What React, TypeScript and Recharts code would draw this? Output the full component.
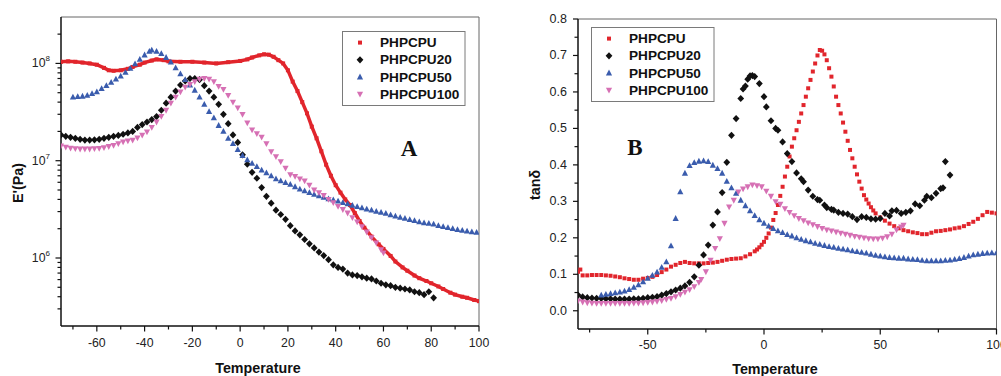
import { ScatterChart, Scatter, XAxis, YAxis, ReferenceLine, Legend } from 'recharts'

const RED = '#e1252c'
const BLACK = '#111111'
const BLUE = '#3a5cad'
const PINK = '#d670b4'
const FONT = '"Liberation Sans", Arial, Helvetica, sans-serif'

// Panel A: storage modulus E' (Pa) vs temperature
const A_PHPCPU: [number, number][] = [
  [-75, 1.04e8], [-72, 1.05e8], [-69, 1.04e8], [-66, 1.02e8], [-63, 1.0e8], [-60, 9.7e7], [-57, 9.0e7],
  [-55, 8.5e7], [-53, 8.4e7], [-50, 8.5e7], [-47, 8.8e7], [-45, 9.2e7], [-42, 9.7e7], [-40, 1.02e8],
  [-37, 1.07e8], [-35, 1.1e8], [-32, 1.08e8], [-30, 1.05e8], [-25, 1.04e8], [-20, 1.04e8], [-15, 1.02e8],
  [-10, 1.0e8], [-5, 1.03e8], [0, 1.06e8], [3, 1.1e8], [5, 1.15e8], [8, 1.21e8], [10, 1.24e8], [12, 1.23e8],
  [14, 1.17e8], [16, 1.08e8], [18, 1.0e8], [20, 8.5e7], [22, 6.5e7], [24, 5.2e7], [26, 4.0e7], [28, 3.07e7],
  [30, 2.24e7], [32, 1.7e7], [34, 1.25e7], [36, 9.1e6], [38, 7.0e6], [40, 5.6e6], [42, 4.7e6], [44, 4.0e6],
  [46, 3.5e6], [48, 2.9e6], [50, 2.4e6], [52, 2.05e6], [55, 1.66e6], [58, 1.38e6], [60, 1.24e6], [63, 1.05e6],
  [65, 9.2e5], [68, 8.0e5], [70, 7.4e5], [73, 6.6e5], [75, 6.2e5], [78, 5.8e5], [80, 5.5e5], [83, 5.1e5],
  [85, 4.8e5], [88, 4.4e5], [90, 4.2e5], [93, 4.0e5], [95, 3.9e5], [98, 3.7e5], [100, 3.6e5],
]
const A_PHPCPU20: [number, number][] = [
  [-75, 1.84e7], [-73, 1.78e7], [-71, 1.74e7], [-69, 1.7e7], [-67, 1.66e7], [-65, 1.63e7], [-63, 1.63e7],
  [-61, 1.64e7], [-59, 1.66e7], [-57, 1.7e7], [-55, 1.74e7], [-53, 1.78e7], [-51, 1.82e7], [-49, 1.87e7],
  [-47, 1.93e7], [-45, 2.0e7], [-43, 2.2e7], [-41, 2.35e7], [-39, 2.5e7], [-37, 2.65e7], [-35, 2.84e7],
  [-33, 3.3e7], [-31, 3.9e7], [-29, 4.5e7], [-27, 5.2e7], [-25, 6.0e7], [-23, 6.6e7], [-21, 7.0e7],
  [-19, 7.0e7], [-17, 6.8e7], [-15, 5.9e7], [-13, 5.2e7], [-11, 4.5e7], [-9, 3.8e7], [-7, 3.0e7],
  [-5, 2.4e7], [-3, 1.84e7], [-1, 1.54e7], [1, 1.15e7], [3, 9.2e6], [5, 7.6e6], [7, 6.6e6], [9, 5.3e6],
  [11, 4.3e6], [13, 3.66e6], [15, 3.1e6], [17, 2.8e6], [19, 2.5e6], [21, 2.15e6], [23, 1.9e6], [25, 1.73e6],
  [27, 1.55e6], [29, 1.4e6], [31, 1.27e6], [33, 1.15e6], [35, 1.06e6], [37, 9.6e5], [39, 8.5e5], [41, 8.0e5],
  [43, 7.7e5], [45, 7.0e5], [47, 6.7e5], [49, 6.6e5], [51, 6.4e5], [53, 6.2e5], [55, 6.1e5], [57, 5.8e5],
  [59, 5.5e5], [61, 5.3e5], [63, 5.2e5], [65, 5.0e5], [67, 4.9e5], [69, 4.8e5], [71, 4.7e5], [73, 4.5e5],
  [75, 4.4e5], [77, 4.2e5], [79, 4.5e5], [81, 3.9e5],
]
const A_PHPCPU50: [number, number][] = [
  [-70, 4.5e7], [-68, 4.55e7], [-66, 4.6e7], [-64, 4.7e7], [-62, 4.9e7], [-60, 5.1e7], [-58, 5.5e7],
  [-56, 5.9e7], [-54, 6.4e7], [-52, 6.9e7], [-50, 7.4e7], [-48, 8.1e7], [-46, 8.9e7], [-44, 9.9e7],
  [-42, 1.1e8], [-40, 1.22e8], [-38, 1.33e8], [-37, 1.37e8], [-35, 1.33e8], [-33, 1.26e8], [-31, 1.15e8],
  [-29, 1.03e8], [-27, 9.0e7], [-25, 7.8e7], [-23, 6.8e7], [-21, 6.0e7], [-19, 5.3e7], [-17, 4.5e7],
  [-15, 3.8e7], [-13, 3.2e7], [-11, 2.75e7], [-9, 2.3e7], [-7, 2.0e7], [-5, 1.7e7], [-3, 1.5e7], [-1, 1.3e7],
  [1, 1.13e7], [3, 1.02e7], [5, 9.4e6], [7, 8.7e6], [9, 8.0e6], [11, 7.5e6], [13, 7.0e6], [15, 6.5e6],
  [17, 6.2e6], [19, 5.95e6], [21, 5.7e6], [23, 5.4e6], [25, 5.1e6], [27, 4.9e6], [29, 4.7e6], [31, 4.5e6],
  [33, 4.35e6], [35, 4.2e6], [37, 4.05e6], [39, 3.95e6], [41, 3.85e6], [43, 3.7e6], [45, 3.6e6], [47, 3.48e6],
  [49, 3.38e6], [51, 3.28e6], [53, 3.18e6], [55, 3.1e6], [57, 3.02e6], [59, 2.95e6], [61, 2.87e6],
  [63, 2.78e6], [65, 2.7e6], [67, 2.62e6], [69, 2.55e6], [71, 2.48e6], [73, 2.42e6], [75, 2.35e6],
  [77, 2.3e6], [79, 2.27e6], [81, 2.23e6], [83, 2.15e6], [85, 2.1e6], [87, 2.05e6], [89, 2.0e6],
  [91, 1.96e6], [93, 1.92e6], [95, 1.89e6], [97, 1.86e6], [99, 1.83e6],
]
const A_PHPCPU100: [number, number][] = [
  [-75, 1.42e7], [-73, 1.38e7], [-71, 1.35e7], [-69, 1.33e7], [-67, 1.32e7], [-65, 1.32e7], [-63, 1.32e7],
  [-61, 1.33e7], [-59, 1.34e7], [-57, 1.36e7], [-55, 1.4e7], [-53, 1.44e7], [-51, 1.5e7], [-49, 1.56e7],
  [-47, 1.6e7], [-45, 1.63e7], [-43, 1.72e7], [-41, 1.83e7], [-39, 1.98e7], [-37, 2.2e7], [-35, 2.5e7],
  [-33, 2.85e7], [-31, 3.3e7], [-29, 3.9e7], [-27, 4.5e7], [-25, 5.1e7], [-23, 5.7e7], [-21, 6.1e7],
  [-19, 6.5e7], [-17, 6.9e7], [-15, 7.0e7], [-13, 6.9e7], [-11, 6.5e7], [-9, 5.8e7], [-7, 5.4e7],
  [-5, 4.7e7], [-3, 4.0e7], [-1, 3.5e7], [1, 3.0e7], [3, 2.45e7], [5, 2.07e7], [7, 1.9e7], [9, 1.75e7],
  [11, 1.5e7], [13, 1.24e7], [15, 1.1e7], [17, 9.8e6], [19, 8.4e6], [21, 7.2e6], [23, 6.9e6], [25, 6.5e6],
  [27, 6.2e6], [29, 5.6e6], [31, 5.0e6], [33, 4.7e6], [35, 4.4e6], [37, 4.0e6], [39, 3.7e6], [41, 3.4e6],
  [43, 3.15e6], [45, 2.9e6], [47, 2.6e6], [49, 2.35e6], [51, 2.1e6], [53, 1.85e6], [55, 1.62e6],
  [57, 1.43e6], [59, 1.22e6], [60, 1.13e6],
]

// Panel B: tan delta vs temperature
const B_PHPCPU: [number, number][] = [
  [-80, 0.107], [-79, 0.113], [-78, 0.097], [-76, 0.097], [-74, 0.098], [-72, 0.098], [-70, 0.098],
  [-68, 0.097], [-66, 0.096], [-64, 0.094], [-62, 0.092], [-60, 0.089], [-58, 0.087], [-56, 0.085],
  [-54, 0.085], [-52, 0.088], [-50, 0.09], [-48, 0.093], [-46, 0.098], [-44, 0.106], [-42, 0.113],
  [-40, 0.121], [-38, 0.126], [-36, 0.131], [-34, 0.134], [-32, 0.131], [-30, 0.13], [-28, 0.13],
  [-26, 0.13], [-24, 0.131], [-22, 0.132], [-20, 0.134], [-18, 0.137], [-16, 0.14], [-14, 0.142],
  [-12, 0.143], [-10, 0.144], [-8, 0.149], [-6, 0.155], [-4, 0.163], [-3, 0.168], [-2, 0.174], [-1, 0.181],
  [0, 0.189], [1, 0.2], [2, 0.212], [3, 0.228], [4, 0.249], [5, 0.268], [6, 0.29], [7, 0.315], [8, 0.34],
  [9, 0.368], [10, 0.395], [11, 0.423], [12, 0.45], [13, 0.473], [14, 0.495], [15, 0.518], [16, 0.541],
  [17, 0.564], [18, 0.587], [19, 0.61], [20, 0.633], [21, 0.656], [22, 0.678], [23, 0.7], [24, 0.715],
  [25, 0.713], [26, 0.703], [27, 0.687], [28, 0.665], [29, 0.642], [30, 0.615], [31, 0.587], [32, 0.564],
  [33, 0.541], [34, 0.516], [35, 0.491], [36, 0.466], [37, 0.441], [38, 0.418], [39, 0.395], [40, 0.374],
  [41, 0.354], [42, 0.335], [43, 0.317], [44, 0.305], [45, 0.294], [46, 0.284], [47, 0.275], [48, 0.267],
  [50, 0.256], [52, 0.247], [54, 0.239], [56, 0.232], [58, 0.226], [60, 0.221], [62, 0.218], [64, 0.215],
  [66, 0.213], [68, 0.21], [70, 0.21], [72, 0.214], [74, 0.218], [76, 0.219], [78, 0.221], [80, 0.223],
  [82, 0.226], [84, 0.228], [86, 0.232], [88, 0.238], [90, 0.244], [92, 0.252], [94, 0.262], [96, 0.271],
  [98, 0.269], [100, 0.267],
]
const B_PHPCPU20: [number, number][] = [
  [-80, 0.043], [-78, 0.038], [-76, 0.036], [-74, 0.035], [-72, 0.034], [-70, 0.034], [-68, 0.033],
  [-66, 0.033], [-64, 0.032], [-62, 0.032], [-60, 0.032], [-58, 0.032], [-56, 0.033], [-54, 0.033],
  [-52, 0.034], [-50, 0.036], [-48, 0.037], [-46, 0.039], [-44, 0.043], [-42, 0.047], [-40, 0.052],
  [-38, 0.057], [-36, 0.062], [-34, 0.068], [-32, 0.078], [-30, 0.093], [-28, 0.125], [-26, 0.153],
  [-24, 0.18], [-22, 0.235], [-20, 0.271], [-18, 0.324], [-16, 0.407], [-14, 0.481], [-12, 0.527],
  [-10, 0.582], [-9, 0.608], [-8, 0.616], [-7, 0.635], [-6, 0.644], [-5, 0.645], [-4, 0.642], [-2, 0.623],
  [0, 0.587], [1, 0.559], [3, 0.521], [5, 0.5], [6, 0.495], [8, 0.463], [10, 0.431], [12, 0.409],
  [14, 0.378], [16, 0.362], [17, 0.354], [19, 0.331], [21, 0.314], [23, 0.305], [24, 0.303], [26, 0.29],
  [27, 0.283], [29, 0.278], [30, 0.276], [32, 0.27], [34, 0.267], [36, 0.265], [38, 0.258], [40, 0.25],
  [42, 0.258], [44, 0.256], [46, 0.252], [48, 0.251], [50, 0.253], [52, 0.267], [54, 0.26], [55, 0.274],
  [57, 0.275], [59, 0.267], [61, 0.27], [63, 0.274], [65, 0.293], [67, 0.288], [69, 0.303], [70, 0.314],
  [72, 0.31], [74, 0.322], [76, 0.335], [77, 0.337], [78, 0.409], [80, 0.372],
]
const B_PHPCPU50: [number, number][] = [
  [-70, 0.043], [-68, 0.045], [-66, 0.047], [-64, 0.049], [-62, 0.051], [-60, 0.054], [-58, 0.058],
  [-56, 0.064], [-54, 0.071], [-52, 0.079], [-50, 0.089], [-48, 0.097], [-46, 0.106], [-44, 0.119],
  [-42, 0.134], [-40, 0.178], [-38, 0.253], [-36, 0.326], [-34, 0.377], [-32, 0.398], [-30, 0.406],
  [-28, 0.41], [-26, 0.411], [-24, 0.409], [-22, 0.399], [-20, 0.39], [-18, 0.377], [-16, 0.355],
  [-14, 0.337], [-12, 0.322], [-10, 0.303], [-8, 0.288], [-6, 0.274], [-4, 0.261], [-2, 0.249], [0, 0.24],
  [2, 0.232], [4, 0.225], [6, 0.219], [8, 0.214], [10, 0.209], [12, 0.205], [14, 0.2], [16, 0.196],
  [18, 0.192], [20, 0.189], [22, 0.185], [24, 0.182], [26, 0.179], [28, 0.176], [30, 0.174], [32, 0.171],
  [34, 0.169], [36, 0.167], [38, 0.164], [40, 0.162], [42, 0.16], [44, 0.158], [46, 0.155], [48, 0.152],
  [50, 0.15], [52, 0.148], [54, 0.146], [56, 0.145], [58, 0.144], [60, 0.144], [62, 0.142], [64, 0.141],
  [66, 0.14], [68, 0.138], [70, 0.137], [72, 0.137], [74, 0.137], [76, 0.137], [78, 0.138], [80, 0.139],
  [82, 0.141], [84, 0.143], [86, 0.146], [88, 0.15], [90, 0.153], [92, 0.155], [94, 0.157], [96, 0.158],
  [98, 0.159], [100, 0.159],
]
const B_PHPCPU100: [number, number][] = [
  [-80, 0.027], [-78, 0.024], [-76, 0.022], [-74, 0.021], [-72, 0.02], [-70, 0.02], [-68, 0.02],
  [-66, 0.02], [-64, 0.02], [-62, 0.02], [-60, 0.02], [-58, 0.02], [-56, 0.021], [-54, 0.021],
  [-52, 0.022], [-50, 0.023], [-48, 0.024], [-46, 0.026], [-44, 0.028], [-42, 0.031], [-40, 0.034],
  [-38, 0.039], [-36, 0.045], [-34, 0.051], [-32, 0.058], [-30, 0.066], [-28, 0.078], [-27, 0.086],
  [-25, 0.107], [-23, 0.139], [-21, 0.171], [-19, 0.198], [-17, 0.24], [-15, 0.285], [-13, 0.303],
  [-11, 0.326], [-9, 0.334], [-7, 0.34], [-5, 0.345], [-3, 0.343], [-1, 0.34], [1, 0.328], [3, 0.314],
  [5, 0.299], [7, 0.292], [9, 0.28], [11, 0.27], [13, 0.261], [15, 0.253], [17, 0.247], [19, 0.241],
  [21, 0.236], [23, 0.231], [25, 0.226], [27, 0.222], [29, 0.219], [31, 0.216], [33, 0.213], [35, 0.21],
  [37, 0.207], [39, 0.204], [41, 0.202], [43, 0.2], [45, 0.198], [47, 0.197], [49, 0.197], [51, 0.199],
  [53, 0.203], [55, 0.21], [57, 0.222], [59, 0.23], [60, 0.235],
]

// ticks (major ones get labels)
const A_X_TICKS = [-70, -60, -50, -40, -30, -20, -10, 0, 10, 20, 30, 40, 50, 60, 70, 80, 90, 100]
const A_Y_TICKS = [
  3e5, 4e5, 5e5, 6e5, 7e5, 8e5, 9e5, 1e6, 2e6, 3e6, 4e6, 5e6, 6e6, 7e6, 8e6, 9e6,
  1e7, 2e7, 3e7, 4e7, 5e7, 6e7, 7e7, 8e7, 9e7, 1e8, 2e8,
]
const A_Y_MAJOR = [1e6, 1e7, 1e8]
const B_X_TICKS = [-75, -50, -25, 0, 25, 50, 75, 100]
const B_Y_TICKS = [0, 0.05, 0.1, 0.15, 0.2, 0.25, 0.3, 0.35, 0.4, 0.45, 0.5, 0.55, 0.6, 0.65, 0.7, 0.75, 0.8]

const SERIES = [
  { name: 'PHPCPU', color: RED, kind: 'square' },
  { name: 'PHPCPU20', color: BLACK, kind: 'diamond' },
  { name: 'PHPCPU50', color: BLUE, kind: 'up' },
  { name: 'PHPCPU100', color: PINK, kind: 'down' },
]

const toPts = (arr: [number, number][]) => arr.map(([t, v]) => ({ t, v }))

function Marker({ cx, cy, kind, color }: any) {
  if (cx == null || cy == null) return null
  if (kind === 'square') {
    return <rect x={cx - 2} y={cy - 2} width={4} height={4} fill={color} />
  }
  if (kind === 'diamond') {
    return <polygon points={`${cx},${cy - 3.6} ${cx + 3.4},${cy} ${cx},${cy + 3.6} ${cx - 3.4},${cy}`} fill={color} />
  }
  if (kind === 'up') {
    return <polygon points={`${cx},${cy - 3.4} ${cx + 3.1},${cy + 2.4} ${cx - 3.1},${cy + 2.4}`} fill={color} />
  }
  return <polygon points={`${cx},${cy + 3.4} ${cx + 3.1},${cy - 2.4} ${cx - 3.1},${cy - 2.4}`} fill={color} />
}

function XTick({ x, y, payload, majorEvery, dy }: any) {
  const v = payload.value
  const major = Math.abs(v % majorEvery) < 1e-9
  return (
    <g>
      <line x1={x} x2={x} y1={y} y2={y + (major ? 5.5 : 3.5)} stroke="#111" strokeWidth={1.2} />
      {major && (
        <text x={x} y={y + dy} textAnchor="middle" dominantBaseline="central" fontSize={12.3} fill="#222" fontFamily={FONT}>
          {v}
        </text>
      )}
    </g>
  )
}

function LogTick({ x, y, payload }: any) {
  const v = payload.value
  const major = A_Y_MAJOR.includes(v)
  return (
    <g>
      <line x1={x} x2={x - (major ? 5.5 : 3.5)} y1={y} y2={y} stroke="#111" strokeWidth={1.2} />
      {major && (
        <text x={x - 11} y={y} textAnchor="end" dominantBaseline="central" fontSize={12.3} fill="#222" fontFamily={FONT}>
          <tspan>10</tspan>
          <tspan dy={-5} fontSize={8}>{Math.round(Math.log10(v))}</tspan>
        </text>
      )}
    </g>
  )
}

function TanTick({ x, y, payload }: any) {
  const v = payload.value
  const major = Math.round(v * 100) % 10 === 0
  return (
    <g>
      <line x1={x} x2={x - (major ? 5 : 3.5)} y1={y} y2={y} stroke="#111" strokeWidth={1.2} />
      {major && (
        <text x={x - 11} y={y} textAnchor="end" dominantBaseline="central" fontSize={12.5} fill="#222" fontFamily={FONT}>
          {v.toFixed(1)}
        </text>
      )}
    </g>
  )
}

function LegendBox() {
  return (
    <svg width={124} height={76} style={{ display: 'block' }}>
      <rect x={0.5} y={0.5} width={122.5} height={74} fill="#fff" stroke="#7a7a7a" strokeWidth={1} />
      {SERIES.map((s, i) => {
        const cy = 11.6 + i * 17.2
        return (
          <g key={s.name}>
            <Marker cx={18} cy={cy} kind={s.kind} color={s.color} />
            <text x={38} y={cy} dominantBaseline="central" fontSize={13.6} fontWeight="bold" fill="#111" fontFamily={FONT}>
              {s.name}
            </text>
          </g>
        )
      })}
    </svg>
  )
}

const boldTitle = { fontSize: 14.3, fontWeight: 'bold', fill: '#111', fontFamily: FONT } as const

function PanelLetter({ x, y, text }: { x: number; y: number; text: string }) {
  return (
    <div
      style={{
        position: 'absolute', left: x, top: y, transform: 'translate(-50%, -50%)', lineHeight: 1,
        fontFamily: '"Liberation Serif", "DejaVu Serif", serif', fontWeight: 'bold', fontSize: 23, color: '#111',
      }}
    >
      {text}
    </div>
  )
}

export default function App() {
  const seriesA = [A_PHPCPU, A_PHPCPU20, A_PHPCPU50, A_PHPCPU100]
  const seriesB = [B_PHPCPU, B_PHPCPU20, B_PHPCPU50, B_PHPCPU100]

  return (
    <div style={{ position: 'absolute', left: 0, top: 0, width: 1001, height: 376, overflow: 'hidden', background: '#fff' }}>
      <div style={{ position: 'absolute', left: 0, top: 0 }}>
        <ScatterChart width={500} height={376} margin={{ top: 17, right: 21, bottom: 0, left: 0 }}>
          <XAxis
            type="number" dataKey="t" domain={[-75, 100]} ticks={A_X_TICKS} interval={0} allowDataOverflow
            height={50} tickSize={0} tickMargin={0} tickLine={false}
            axisLine={{ stroke: '#111', strokeWidth: 1.5 }}
            tick={(p: any) => <XTick {...p} majorEvery={20} dy={16.5} />}
            label={() => <text x={258} y={368} textAnchor="middle" dominantBaseline="central" {...boldTitle}>Temperature</text>}
          />
          <YAxis
            type="number" dataKey="v" scale="log" domain={[2e5, 3e8]} ticks={A_Y_TICKS} interval={0} allowDataOverflow
            width={61} tickSize={0} tickMargin={0} tickLine={false}
            axisLine={{ stroke: '#111', strokeWidth: 1.5 }}
            tick={(p: any) => <LogTick {...p} />}
            label={() => (
              <text x={18} y={183} transform="rotate(-90 18 183)" textAnchor="middle" dominantBaseline="central" {...boldTitle}>
                E'(Pa)
              </text>
            )}
          />
          <ReferenceLine y={3e8} stroke="#666" strokeWidth={1} ifOverflow="visible" />
          <ReferenceLine x={100} stroke="#666" strokeWidth={1} ifOverflow="visible" />
          {SERIES.map((s, i) => (
            <Scatter
              key={s.name}
              name={s.name}
              data={toPts(seriesA[i])}
              fill={s.color}
              isAnimationActive={false}
              line={i === 0 ? { stroke: RED, strokeWidth: 3.5 } : false}
              shape={(p: any) => <Marker cx={p.cx} cy={p.cy} kind={s.kind} color={s.color} />}
            />
          ))}
          <Legend
            layout="vertical" align="center" verticalAlign="middle"
            wrapperStyle={{ left: 342, top: 31, width: 124, height: 76 }}
            content={() => <LegendBox />}
          />
        </ScatterChart>
        <PanelLetter x={409} y={148} text="A" />
      </div>

      <div style={{ position: 'absolute', left: 500, top: 0 }}>
        <ScatterChart width={501} height={376} margin={{ top: 19, right: 4.5, bottom: 0, left: 0 }}>
          <XAxis
            type="number" dataKey="t" domain={[-80, 100]} ticks={B_X_TICKS} interval={0} allowDataOverflow
            height={47} tickSize={0} tickMargin={0} tickLine={false}
            axisLine={{ stroke: '#111', strokeWidth: 1.5 }}
            tick={(p: any) => <XTick {...p} majorEvery={50} dy={16} />}
            label={() => <text x={275} y={369} textAnchor="middle" dominantBaseline="central" {...boldTitle}>Temperature</text>}
          />
          <YAxis
            type="number" dataKey="v" domain={[-0.05, 0.8]} ticks={B_Y_TICKS} interval={0} allowDataOverflow
            width={78} tickSize={0} tickMargin={0} tickLine={false}
            axisLine={{ stroke: '#111', strokeWidth: 1.5 }}
            tick={(p: any) => <TanTick {...p} />}
            label={() => (
              <text x={35} y={185} transform="rotate(-90 35 185)" textAnchor="middle" dominantBaseline="central" {...boldTitle}>
                tanδ
              </text>
            )}
          />
          <ReferenceLine y={0.8} stroke="#666" strokeWidth={1} ifOverflow="visible" />
          <ReferenceLine x={100} stroke="#666" strokeWidth={1} ifOverflow="visible" />
          {SERIES.map((s, i) => (
            <Scatter
              key={s.name}
              name={s.name}
              data={toPts(seriesB[i])}
              fill={s.color}
              isAnimationActive={false}
              shape={(p: any) => <Marker cx={p.cx} cy={p.cy} kind={s.kind} color={s.color} />}
            />
          ))}
          <Legend
            layout="vertical" align="center" verticalAlign="middle"
            wrapperStyle={{ left: 90.5, top: 27, width: 124, height: 76 }}
            content={() => <LegendBox />}
          />
        </ScatterChart>
        <PanelLetter x={135} y={147} text="B" />
      </div>
    </div>
  )
}
